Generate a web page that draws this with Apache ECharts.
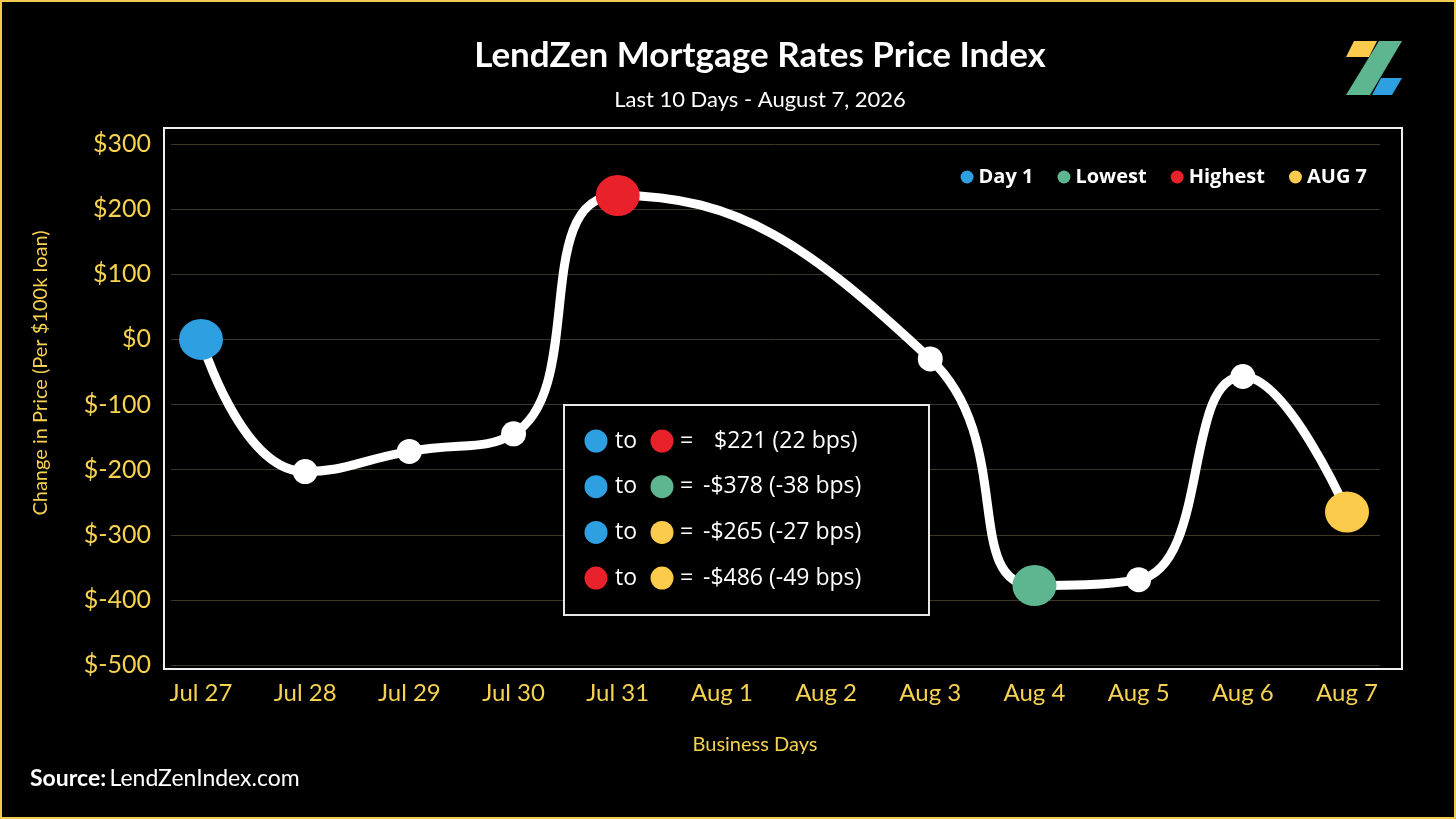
<!DOCTYPE html>
<html>
<head>
<meta charset="utf-8">
<script src="https://cdn.jsdelivr.net/npm/echarts@6/dist/echarts.min.js"></script>
<style>
  html, body { margin: 0; padding: 0; background: #000; }
  #chart { width: 1456px; height: 819px; }
</style>
</head>
<body>
<div id="chart"></div>
<script>
// data
var days = ['Jul 27', 'Jul 28', 'Jul 29', 'Jul 30', 'Jul 31', 'Aug 1', 'Aug 2', 'Aug 3', 'Aug 4', 'Aug 5', 'Aug 6', 'Aug 7'];
var change = [0, -203, -172, -145, 221, null, null, -30, -378, -369, -57, -265];

// highlighted points: [day, value]
var day1 = [['Jul 27', 0]];
var lowest = [['Aug 4', -378]];
var highest = [['Jul 31', 221]];
var aug7 = [['Aug 7', -265]];

var yTicks = [-500, -400, -300, -200, -100, 0, 100, 200, 300];

var BLUE = '#2E9FE0', GREEN = '#5DB68F', RED = '#E8212A', YELLOW = '#FDCB4B';
var LABEL = '#F7D250';

// box rows: from colour, to colour, text
var boxFrom = [BLUE, BLUE, BLUE, RED];
var boxTo = [RED, GREEN, YELLOW, YELLOW];
var boxText = ['$221 (22 bps)', '-$378 (-38 bps)', '-$265 (-27 bps)', '-$486 (-49 bps)'];

var chart = echarts.init(document.getElementById('chart'));

var BOX_FONT = '23px "Open Sans"';
var boxChildren = [{
  type: 'rect', z: 20,
  shape: { x: 0, y: 0, width: 365, height: 210 },
  style: { fill: '#000', stroke: '#e8e8e8', lineWidth: 2 }
}];
boxText.forEach(function (t, i) {
  var cy = 36 + i * 45.7;
  boxChildren.push(
    { type: 'circle', z: 21, shape: { cx: 32, cy: cy, r: 11.5 }, style: { fill: boxFrom[i] } },
    { type: 'text', z: 21, x: 51, y: cy, style: { text: 'to', fill: '#fff', font: BOX_FONT, verticalAlign: 'middle' } },
    { type: 'circle', z: 21, shape: { cx: 98, cy: cy, r: 11.5 }, style: { fill: boxTo[i] } },
    { type: 'text', z: 21, x: 116, y: cy, style: { text: '=', fill: '#fff', font: BOX_FONT, verticalAlign: 'middle' } },
    { type: 'text', z: 21, x: t.charAt(0) === '-' ? 139 : 150, y: cy, style: { text: t, fill: '#fff', font: BOX_FONT, verticalAlign: 'middle' } }
  );
});

var option = {
  backgroundColor: '#000',
  animation: false,
  title: {
    text: 'LendZen Mortgage Rates Price Index',
    subtext: 'Last 10 Days - August 7, 2026',
    left: 755,
    textAlign: 'center',
    top: 33,
    itemGap: 16,
    textStyle: { color: '#fff', fontFamily: 'Lato', fontWeight: 'bold', fontSize: 35 },
    subtextStyle: { color: '#fff', fontFamily: 'Lato', fontSize: 22 }
  },
  legend: {
    data: ['Day 1', 'Lowest', 'Highest', 'AUG 7'],
    right: 84,
    top: 162,
    icon: 'circle',
    itemWidth: 13,
    itemHeight: 13,
    itemGap: 24,
    textStyle: { color: '#fff', fontFamily: 'Open Sans', fontWeight: 'bold', fontSize: 20 }
  },
  grid: [
    { left: 171, right: 76, top: 144, bottom: 154 },
    { left: 201, right: 109, top: 144, bottom: 154 }
  ],
  xAxis: [
    { gridIndex: 0, type: 'value', min: 0, max: 1, show: false },
    {
      gridIndex: 1,
      type: 'category',
      data: days,
      boundaryGap: false,
      axisLine: { show: false },
      axisTick: { show: false },
      splitLine: { show: false },
      axisLabel: { color: LABEL, fontFamily: 'Lato', fontSize: 24, margin: 16 }
    }
  ],
  yAxis: [
    {
      gridIndex: 0,
      type: 'value',
      min: yTicks[0],
      max: yTicks[yTicks.length - 1],
      interval: 100,
      axisLine: { show: false },
      axisTick: { show: false },
      splitLine: { lineStyle: { color: '#3e3524', width: 1 } },
      axisLabel: {
        color: LABEL, fontFamily: 'Lato', fontSize: 25, margin: 20,
        formatter: function (v) { return '$' + v; }
      }
    },
    {
      gridIndex: 1,
      type: 'value',
      min: yTicks[0],
      max: yTicks[yTicks.length - 1],
      interval: 100,
      show: false
    }
  ],
  series: [
    {
      name: 'Change',
      type: 'line',
      xAxisIndex: 1,
      yAxisIndex: 1,
      data: change,
      smooth: 0.5,
      connectNulls: true,
      symbol: 'circle',
      symbolSize: 25,
      showAllSymbol: true,
      lineStyle: { color: '#fff', width: 9 },
      itemStyle: { color: '#fff' },
      z: 3
    },
    {
      name: 'Day 1', type: 'scatter', xAxisIndex: 1, yAxisIndex: 1,
      data: day1, symbolSize: [44, 41], itemStyle: { color: BLUE, opacity: 1 }, z: 5
    },
    {
      name: 'Lowest', type: 'scatter', xAxisIndex: 1, yAxisIndex: 1,
      data: lowest, symbolSize: [44, 41], itemStyle: { color: GREEN, opacity: 1 }, z: 5
    },
    {
      name: 'Highest', type: 'scatter', xAxisIndex: 1, yAxisIndex: 1,
      data: highest, symbolSize: [44, 41], itemStyle: { color: RED, opacity: 1 }, z: 5
    },
    {
      name: 'AUG 7', type: 'scatter', xAxisIndex: 1, yAxisIndex: 1,
      data: aug7, symbolSize: [44, 41], itemStyle: { color: YELLOW, opacity: 1 }, z: 5
    }
  ],
  graphic: [
    // outer frame
    { type: 'rect', shape: { x: 1, y: 1, width: 1454, height: 817 }, style: { fill: 'none', stroke: '#F2C94C', lineWidth: 2 }, z: 10 },
    // plot frame
    { type: 'rect', shape: { x: 164, y: 128, width: 1238, height: 541 }, style: { fill: 'none', stroke: '#f0f0f0', lineWidth: 2 }, z: 1 },
    // logo
    { type: 'polygon', shape: { points: [[1354, 41], [1377, 41], [1369, 57], [1346, 57]] }, style: { fill: YELLOW } },
    { type: 'polygon', shape: { points: [[1379, 41], [1402, 41], [1370, 95], [1346, 95]] }, style: { fill: GREEN } },
    { type: 'polygon', shape: { points: [[1381, 78], [1402, 78], [1392, 95], [1372, 95]] }, style: { fill: BLUE } },
    // y axis name
    {
      type: 'text', x: 41, y: 373, rotation: Math.PI / 2,
      style: { text: 'Change in Price (Per $100k loan)', fill: LABEL, font: '20px Lato', align: 'center', verticalAlign: 'middle' }
    },
    // x axis name
    {
      type: 'text', x: 755, y: 745,
      style: { text: 'Business Days', fill: LABEL, font: '20px Lato', align: 'center', verticalAlign: 'middle' }
    },
    // source
    {
      type: 'text', x: 30, y: 779,
      style: {
        text: '{b|Source:} {n|LendZenIndex.com}',
        verticalAlign: 'middle',
        rich: {
          b: { fill: '#fff', fontFamily: 'Lato', fontWeight: 'bold', fontSize: 23 },
          n: { fill: '#fff', fontFamily: 'Lato', fontSize: 23 }
        }
      }
    },
    // comparison box
    { type: 'group', x: 564, y: 405, children: boxChildren, z: 20 }
  ]
};

chart.setOption(option);
</script>
</body>
</html>
